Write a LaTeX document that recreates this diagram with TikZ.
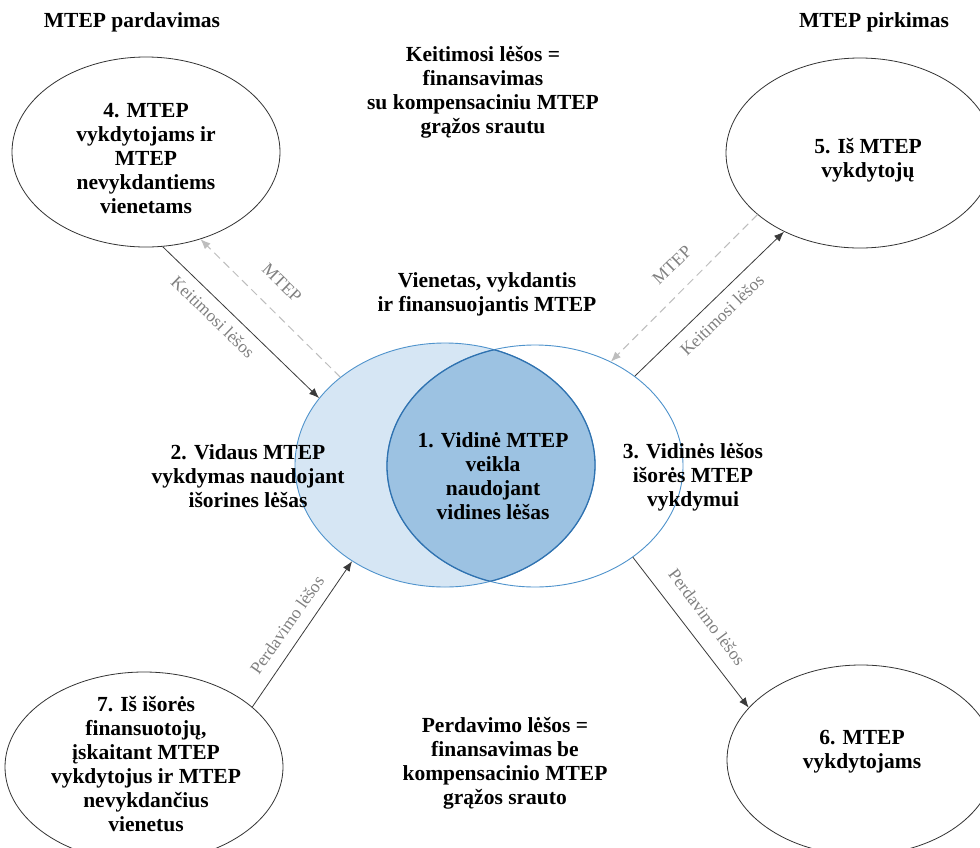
\documentclass[tikz,border=0pt]{standalone}
\usepackage{fontspec}
\setmainfont{Liberation Serif}
\usetikzlibrary{arrows.meta,shapes.geometric}
\definecolor{lightfill}{HTML}{D6E6F4}
\definecolor{lensfill}{HTML}{9CC2E2}
\definecolor{edgeblue}{HTML}{4F93CC}
\definecolor{lensedge}{HTML}{2F72B0}
\definecolor{lblgray}{HTML}{808080}
\definecolor{dashgray}{HTML}{BDBDBD}
\definecolor{arrowdark}{HTML}{3A3A3A}
\tikzset{
  outerell/.style={ellipse, draw=black!80, line width=0.8pt, minimum width=268pt, minimum height=190pt, inner sep=0pt},
  big/.style={font=\bfseries\fontsize{21.5}{24}\selectfont, align=center, inner sep=0pt},
  lbl/.style={font=\fontsize{17.5}{18}\selectfont, text=lblgray, inner sep=0pt},
  cashflow/.style={draw=arrowdark, line width=0.8pt, -{Latex[length=10pt,width=8pt]}},
  mtepflow/.style={draw=dashgray, line width=1pt, dash pattern=on 8pt off 5pt, -{Latex[length=10pt,width=8pt]}},
}
\begin{document}
\begin{tikzpicture}[x=1pt,y=-1pt]
\useasboundingbox (0,0) rectangle (980,847);
\clip (0,0) rectangle (980,847);
\fill[white] (0,0) rectangle (980,847);

% outer ellipses
\node[outerell] (e4) at (146,152) {};
\node[outerell] (e5) at (860,153) {};
\node[outerell, minimum width=278pt] (e7) at (144,767) {};
\node[outerell] (e6) at (861,760) {};

% inner ellipses
\node[ellipse, minimum width=300pt, minimum height=244pt, inner sep=0pt, fill=lightfill, draw=edgeblue, line width=0.9pt] (L) at (445,465) {};
\node[ellipse, minimum width=296pt, minimum height=242pt, inner sep=0pt, draw=edgeblue, line width=0.9pt] (R) at (535,466) {};
\begin{scope}
  \clip (L.center) ellipse [x radius=150pt, y radius=122pt];
  \fill[lensfill] (R.center) ellipse [x radius=148pt, y radius=121pt];
  \draw[lensedge, line width=1.3pt] (R.center) ellipse [x radius=148pt, y radius=121pt];
\end{scope}
\begin{scope}
  \clip (R.center) ellipse [x radius=148pt, y radius=121pt];
  \draw[lensedge, line width=1.3pt] (L.center) ellipse [x radius=150pt, y radius=122pt];
\end{scope}

% connectors
\draw[cashflow] (e4.-80) -- (L.152);
\draw[mtepflow] (L.140.4) -- (e4.-58);
\draw[cashflow] (R.42.4) -- (e5.-134.6);
\draw[mtepflow] (e5.-149.8) -- (R.54.2);
\draw[cashflow] (e7.29.5) -- (L.-134);
\draw[cashflow] (R.-43) -- (e6.155.5);

% connector labels
\node[lbl, rotate=-44] (lk1) at (213,317) {Keitimosi lėšos};
\node[lbl, rotate=-44] (lm1) at (282,283) {MTEP};
\node[lbl, rotate=44] (lk2) at (722,315) {Keitimosi lėšos};
\node[lbl, rotate=44] (lm2) at (672,265) {MTEP};
\node[lbl, rotate=55] (lp1) at (287,625) {Perdavimo lėšos};
\node[lbl, rotate=-53] (lp2) at (707,617) {Perdavimo lėšos};

% texts
\node[big] (hl) at (132,22) {MTEP pardavimas};
\node[big] (hr) at (874,22) {MTEP pirkimas};
\node[big] (tk) at (483,92) {Keitimosi lėšos =\\finansavimas\\su kompensaciniu MTEP\\grąžos srautu};
\node[big] (t4) at (146,159) {4. MTEP\\vykdytojams ir\\MTEP\\nevykdantiems\\vienetams};
\node[big] (t5) at (868,160) {5. Iš MTEP\\vykdytojų};
\node[big] (tv) at (487,294) {Vienetas, vykdantis\\ir finansuojantis MTEP};
\node[big] (t2) at (248,476) {2. Vidaus MTEP\\vykdymas naudojant\\išorines lėšas};
\node[big] (t1) at (493,476) {1. Vidinė MTEP\\veikla\\naudojant\\vidines lėšas};
\node[big] (t3) at (693,477) {3. Vidinės lėšos\\išorės MTEP\\vykdymui};
\node[big] (tp) at (505,763) {Perdavimo lėšos =\\finansavimas be\\kompensacinio MTEP\\grąžos srauto};
\node[big] (t7) at (146,764) {7. Iš išorės\\finansuotojų,\\įskaitant MTEP\\vykdytojus ir MTEP\\nevykdančius\\vienetus};
\node[big] (t6) at (862,752) {6. MTEP\\vykdytojams};
\end{tikzpicture}
\end{document}
